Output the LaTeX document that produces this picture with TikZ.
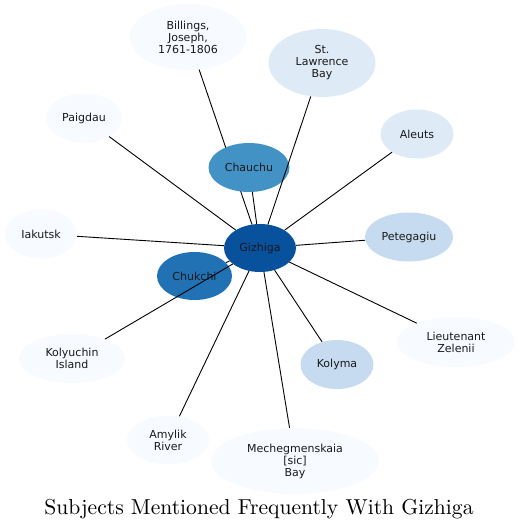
\documentclass[tikz,border=0pt]{standalone}
\usepackage{fontspec}
\usepackage{xcolor}
\usepackage{tikz}
\usetikzlibrary{shapes.geometric}
\newfontfamily\subjfont{DejaVu Sans}
\newfontfamily\titlefont{lmroman10-regular.otf}
\definecolor{cTierA}{HTML}{F7FBFF}
\definecolor{cTierB}{HTML}{DEEBF7}
\definecolor{cTierC}{HTML}{C6DBEF}
\definecolor{cTierD}{HTML}{4292C6}
\definecolor{cTierE}{HTML}{2171B5}
\definecolor{cHub}{HTML}{08519C}
\tikzset{
  subj/.style ={ellipse, draw=none, fill=cTierA, align=center, inner sep=0pt,
                font=\subjfont\fontsize{11}{12}\selectfont, text=black!90,
                minimum height=49pt},
  subjB/.style={subj, fill=cTierB},
  subjC/.style={subj, fill=cTierC},
  subjD/.style={subj, fill=cTierD},
  subjE/.style={subj, fill=cTierE},
  hub/.style  ={subj, fill=cHub, minimum width=72pt, minimum height=48pt},
  ln/.style   ={draw=black, line width=0.9pt},
  ttl/.style  ={font=\titlefont\fontsize{21.6}{25}\selectfont, inner sep=0pt},
}
\begin{document}
\begin{tikzpicture}[x=1pt,y=-1pt]
  \useasboundingbox (0,0) rectangle (519,530);
  \node[hub] (giz) at (260,248) {Gizhiga};
  \node[subj,minimum width=117pt,minimum height=66pt] (bil) at (188,37) {Billings,\\Joseph,\\1761-1806};
  \node[subjB,minimum width=107pt,minimum height=68pt] (stl) at (322,63) {St.\\Lawrence\\Bay};
  \node[subj,minimum width=76pt] (pai) at (84,118) {Paigdau};
  \node[subjB,minimum width=73pt] (ale) at (417,134) {Aleuts};
  \node[subj,minimum width=72pt] (iak) at (41,234) {Iakutsk};
  \node[subjC,minimum width=88pt] (pet) at (409,237) {Petegagiu};
  \node[subjE,minimum width=75pt,minimum height=48pt] (chk) at (194.5,276) {Chukchi};
  \node[subj,minimum width=118pt,minimum height=50pt] (lie) at (456,342) {Lieutenant\\Zelenii};
  \node[subj,minimum width=106pt] (kol) at (72,358.5) {Kolyuchin\\Island};
  \node[subjC,minimum width=73pt] (kym) at (337,364.5) {Kolyma};
  \node[subj,minimum width=82pt] (amy) at (168,440) {Amylik\\River};
  \node[subj,minimum width=168pt,minimum height=66pt] (mec) at (295,461) {Mechegmenskaia\\{[sic]}\\Bay};
  % Billings edge runs behind Chauchu
  \draw[ln](bil)--(giz);
  \node[subjD,minimum width=81pt] (chau) at (249,167.5) {Chauchu};
  \draw[ln](chau)--(giz);\draw[ln](stl)--(giz);\draw[ln](pai)--(giz);
  \draw[ln](ale)--(giz);\draw[ln](iak)--(giz);\draw[ln](pet)--(giz);
  \draw[ln](chk)--(giz);\draw[ln](lie)--(giz);\draw[ln](kol)--(giz);
  \draw[ln](kym)--(giz);\draw[ln](amy)--(giz);\draw[ln](mec)--(giz);
  \node[ttl,anchor=base] (title) at (259,514) {Subjects Mentioned Frequently With Gizhiga};
\end{tikzpicture}
\end{document}
